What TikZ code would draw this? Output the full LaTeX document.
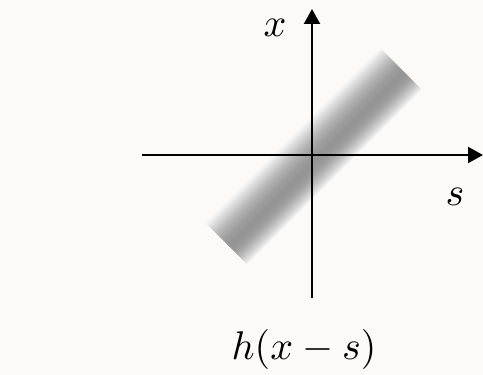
\documentclass[tikz,border=0pt]{standalone}
\usetikzlibrary{arrows.meta}
\definecolor{bgA}{HTML}{E9E7E4}
\definecolor{bgB}{HTML}{EDEBE8}
\definecolor{bgC}{HTML}{F4F2F0}
\definecolor{bgD}{HTML}{F8F7F5}
\definecolor{bgE}{HTML}{FBFAF9}
\pgfdeclarehorizontalshading{bgshade}{100bp}{color(0bp)=(bgA); color(38bp)=(bgB); color(44bp)=(bgC); color(120bp)=(bgD); color(150bp)=(bgE); color(483bp)=(bgE)}
\tikzset{
  axis/.style={line width=2.2pt, draw=black},
  axisarrow/.style={axis, -{Triangle[length=15pt,width=16pt]}},
  lbl/.style={inner sep=0pt, scale=4}
}
\begin{document}
\begin{tikzpicture}[x=1pt,y=1pt]
\useasboundingbox (0,0) rectangle (483,375);
\shade[shading=bgshade] (0,0) rectangle (483,375);
% shaded bar
\begin{scope}[shift={(313.5,219)}, rotate=45]
  \foreach \i in {0,...,57} {
    \pgfmathsetmacro\t{\i/57}
    \pgfmathsetmacro\g{\t<0.4 ? 7+35*sin(90*\t/0.4) : 3+39*sin(90*(1-\t)/0.6)}
    \fill[black!\g] (-123.5,{-29+\i}) rectangle (123.5,{-29+\i+1.3});
  }
\end{scope}
% axes
\coordinate (hL) at (142,220);
\coordinate (hR) at (483,220);
\coordinate (vB) at (312,77);
\coordinate (vT) at (312,366);
\draw[axisarrow] (hL) -- (hR);
\draw[axisarrow] (vB) -- (vT);
% labels
\node[lbl] (lx) at (275,347) {$x$};
\node[lbl] (ls) at (455,178) {$s$};
\node[lbl] (lh) at (304,25) {$h(x-s)$};
\end{tikzpicture}
\end{document}
